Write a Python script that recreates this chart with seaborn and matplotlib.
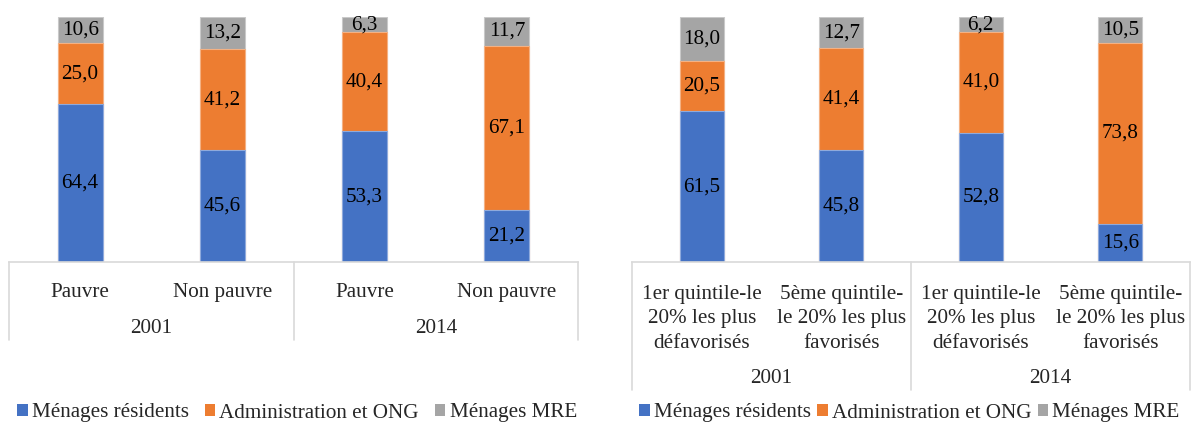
import matplotlib
matplotlib.use("Agg")
import matplotlib.pyplot as plt
from matplotlib.patches import Patch
import seaborn as sns
import pandas as pd
import numpy as np

sns.set_theme(style="white")
plt.rcParams["font.family"] = ["Liberation Serif", "DejaVu Serif"]

# Répartition des ménages selon le statut de pauvreté (panneau gauche)
years = ["2001", "2014"]
pauv_labels = ["Pauvre", "Non pauvre", "Pauvre", "Non pauvre"]
pauv_residents = [64.4, 45.6, 53.3, 21.2]
pauv_admin = [25.0, 41.2, 40.4, 67.1]
pauv_mre = [10.6, 13.2, 6.3, 11.7]

# Répartition selon les quintiles extrêmes (panneau droit)
quint_labels = ["1er quintile-le\n20% les plus\ndéfavorisés",
                "5ème quintile-\nle 20% les plus\nfavorisés",
                "1er quintile-le\n20% les plus\ndéfavorisés",
                "5ème quintile-\nle 20% les plus\nfavorisés"]
quint_residents = [61.5, 45.8, 52.8, 15.6]
quint_admin = [20.5, 41.4, 41.0, 73.8]
quint_mre = [18.0, 12.7, 6.2, 10.5]

series_names = ["Ménages résidents", "Administration et ONG", "Ménages MRE"]
colors = ["#4472C4", "#ED7D31", "#A5A5A5"]
edge_colors = ["#8FAADC", "#F4B183", "#C9C9C9"]

FS = 15.2
GRID = "#D9D9D9"


def stacked_panel(ax, labels, res, adm, mre, cat_y, year_y, line_bottom):
    n = len(res)
    keys = [f"c{i}" for i in range(n)]
    res = np.array(res)
    adm = np.array(adm)
    mre = np.array(mre)
    layers = [res + adm + mre, res + adm, res]
    layer_colors = colors[::-1]
    layer_edges = edge_colors[::-1]
    for vals, c, ec in zip(layers, layer_colors, layer_edges):
        df = pd.DataFrame({"cat": keys, "val": vals})
        sns.barplot(data=df, x="cat", y="val", color=c, width=0.315,
                    saturation=1, edgecolor=ec, linewidth=0.8, ax=ax)
    # value labels in the middle of each segment
    for i in range(n):
        bottoms = [0, res[i], res[i] + adm[i]]
        for b, v in zip(bottoms, [res[i], adm[i], mre[i]]):
            ax.text(i, b + v / 2, f"{v:.1f}".replace(".", ","),
                    ha="center", va="center", fontsize=FS, color="black")
    ax.set_xlim(-0.5, n - 0.5)
    ax.set_ylim(0, 100)
    ax.set_xticks([])
    ax.set_yticks([])
    ax.set_xlabel("")
    ax.set_ylabel("")
    for s in ["top", "left", "right"]:
        ax.spines[s].set_visible(False)
    ax.spines["bottom"].set_color(GRID)
    ax.spines["bottom"].set_linewidth(1.2)
    trans = ax.get_xaxis_transform()
    for xv in [-0.5, 1.5, 3.5]:
        ax.plot([xv, xv], [0, line_bottom], color=GRID, lw=1.2,
                transform=trans, clip_on=False)
    for i, lab in enumerate(labels):
        ax.text(i, cat_y, lab, ha="center", va="center", fontsize=FS,
                transform=trans, linespacing=1.4)
    for j, yr in enumerate(years):
        ax.text(2 * j + 0.5, year_y, yr, ha="center", va="center",
                fontsize=FS, transform=trans)


W, H = 1193, 425
fig = plt.figure(figsize=(W / 100, H / 100), dpi=100)
ax1 = fig.add_axes([9 / W, (H - 262) / H, 569 / W, 245 / H])
ax2 = fig.add_axes([632 / W, (H - 262) / H, 558 / W, 245 / H])

stacked_panel(ax1, pauv_labels, pauv_residents, pauv_admin, pauv_mre,
              cat_y=-0.124, year_y=-0.27, line_bottom=-0.318)
stacked_panel(ax2, quint_labels, quint_residents, quint_admin, quint_mre,
              cat_y=-0.232, year_y=-0.475, line_bottom=-0.522)

handles = [Patch(facecolor=c, edgecolor="none") for c in colors]
for ax, x0, cs in [(ax1, 17 / W, 0.75), (ax2, 639 / W, 0.3)]:
    fig.legend(handles, series_names, loc="center left",
               bbox_to_anchor=(x0, (H - 413) / H), ncol=3, frameon=False,
               fontsize=FS, handlelength=0.5, handleheight=0.5,
               handletextpad=0.2, columnspacing=cs, borderaxespad=0,
               borderpad=0)

fig.savefig("out.png", dpi=100)
